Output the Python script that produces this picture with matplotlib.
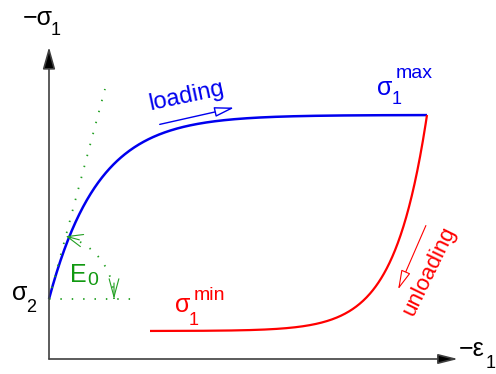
import numpy as np
import matplotlib
matplotlib.use("Agg")
import matplotlib.pyplot as plt
from matplotlib.patches import FancyArrowPatch

plt.rcParams['font.family'] = ['Liberation Sans', 'DejaVu Sans']

# Model parameters (schematic units)
sigma2 = 60.0        # confining level, start of loading
sigma_max = 244.0    # peak stress reached on loading
sigma_min = 28.0     # residual stress after unloading
E0 = 3.75            # initial tangent modulus
eps_max = 378.0      # strain at which unloading starts
eps_unload_end = 101.0
tau_unload = 32.5    # decay strain of unloading branch
tangent_eps_top = 56.0
horiz_ref_end = 88.0
arc_radius = 65.0
arc_angle_deg = 75.0

BLUE = '#0000ee'
RED = '#ff0000'
GREEN_DOT = '#22a022'
GREEN_TXT = '#119911'

fig = plt.figure(figsize=(4.96, 3.74), dpi=100)
ax = fig.add_axes([0, 0, 1, 1])
ax.set_xlim(-49, 447)
ax.set_ylim(-15, 359)
ax.axis('off')

# Axes with arrow heads
ax.annotate('', xy=(0, 312), xytext=(0, 0),
            arrowprops=dict(arrowstyle='-|>,head_length=1.35,head_width=0.38',
                            lw=1.2, fc='black', ec='#404040',
                            shrinkA=0, shrinkB=0))
ax.annotate('', xy=(409, 0), xytext=(0, 0),
            arrowprops=dict(arrowstyle='-|>,head_length=1.2,head_width=0.3',
                            lw=1.2, fc='black', ec='#404040',
                            shrinkA=0, shrinkB=0))

# Loading branch: exponential saturation with initial slope E0
eps_l = np.linspace(0, eps_max, 400)
amp = sigma_max - sigma2
sig_l = sigma2 + amp * (1 - np.exp(-E0 * eps_l / amp))
ax.plot(eps_l, sig_l, color=BLUE, lw=1.8, solid_capstyle='butt')

# Unloading branch
eps_u = np.linspace(eps_unload_end, eps_max, 400)
sig_u = sigma_min + (sigma_max - sigma_min) * np.exp((eps_u - eps_max) / tau_unload)
ax.plot(eps_u, sig_u, color=RED, lw=1.6, solid_capstyle='butt')

# Initial tangent and reference horizontal (dotted)
dot = (0, (0.8, 5.5))
ax.plot([0, tangent_eps_top], [sigma2, sigma2 + E0 * tangent_eps_top],
        color=GREEN_DOT, lw=1.3, linestyle=dot)
ax.plot([0, horiz_ref_end], [sigma2, sigma2], color=GREEN_DOT, lw=1.3, linestyle=dot)

# Angle arc for E0
th = np.radians(np.linspace(0, arc_angle_deg, 60))
ax.plot(arc_radius * np.cos(th), sigma2 + arc_radius * np.sin(th),
        color=GREEN_DOT, lw=1.3, linestyle=dot)
ta = np.radians(arc_angle_deg)
tip_top = (arc_radius * np.cos(ta), sigma2 + arc_radius * np.sin(ta))
ax.annotate('', xy=tip_top,
            xytext=(tip_top[0] + 14 * np.sin(ta), tip_top[1] - 14 * np.cos(ta)),
            arrowprops=dict(arrowstyle='->,head_length=1.1,head_width=0.45',
                            color=GREEN_DOT, lw=0.8, shrinkA=0, shrinkB=0))
ax.annotate('', xy=(arc_radius, sigma2), xytext=(arc_radius, sigma2 + 16),
            arrowprops=dict(arrowstyle='->,head_length=1.3,head_width=0.35',
                            color=GREEN_DOT, lw=0.8, shrinkA=0, shrinkB=0))

# Direction arrows
ax.add_patch(FancyArrowPatch((108, 234), (188, 252),
                             arrowstyle='-|>,head_length=12,head_width=3',
                             mutation_scale=1, lw=1.0, ec=BLUE, fc='white'))
ax.add_patch(FancyArrowPatch((378, 136), (348, 67),
                             arrowstyle='-|>,head_length=12,head_width=3',
                             mutation_scale=1, lw=0.8, ec=RED, fc='white'))


def put(x, y, s, size, color='black'):
    ax.text(x, y, s, fontsize=size, color=color, ha='left', va='baseline')


BIG, SUB, SUP = 18, 13, 14

# -sigma_1 (vertical axis)
put(-26, 334, '\u2212\u03c3', BIG)
put(2, 324, '1', SUB)

# -eps_1 (horizontal axis)
put(410, 3, '\u2212\u03b5', BIG)
put(437, -9, '1', SUB)

# sigma_2
put(-37, 59, '\u03c3', BIG)
put(-23, 47, '2', SUB)

# sigma_1^max
put(328, 264, '\u03c3', BIG, BLUE)
put(343, 255, '1', SUB, BLUE)
put(347, 281, 'max', SUP, BLUE)

# sigma_1^min
put(126, 47, '\u03c3', BIG, RED)
put(140, 34, '1', SUB, RED)
put(145, 59, 'min', SUP, RED)

# E_0
put(21, 77, 'E', BIG, GREEN_TXT)
put(38, 74, '0', SUB + 1, GREEN_TXT)

# Direction labels
ax.text(138, 263, 'loading', fontsize=17, color=BLUE, ha='center', va='center',
        rotation=12, rotation_mode='anchor')
ax.text(380, 88, 'unloading', fontsize=16, color=RED, ha='center', va='center',
        rotation=64, rotation_mode='anchor')

fig.savefig('out.png', dpi=100)
